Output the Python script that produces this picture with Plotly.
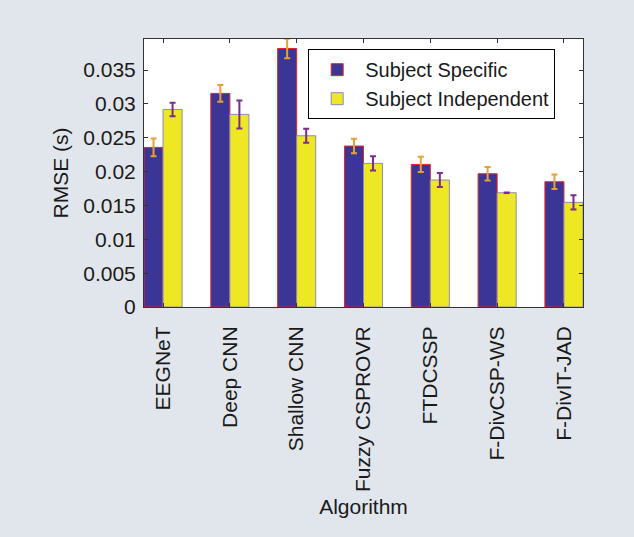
import plotly.graph_objects as go

categories = ["EEGNeT", "Deep CNN", "Shallow CNN", "Fuzzy CSPROVR", "FTDCSSP", "F-DivCSP-WS", "F-DivIT-JAD"]
specific = [0.02358, 0.03156, 0.03820, 0.02378, 0.02107, 0.01969, 0.01851]
specific_err = [0.00130, 0.00123, 0.00143, 0.00108, 0.00113, 0.00100, 0.00106]
independent = [0.02919, 0.02846, 0.02530, 0.02122, 0.01876, 0.01688, 0.01546]
independent_err = [0.00100, 0.00207, 0.00103, 0.00106, 0.00103, 0.00005, 0.00106]
y_ticks = [0, 0.005, 0.01, 0.015, 0.02, 0.025, 0.03, 0.035]
y_ticklabels = ["0", "0.005", "0.01", "0.015", "0.02", "0.025", "0.03", "0.035"]

xpos = list(range(1, len(categories) + 1))
FONT = "Liberation Sans, Arial, Helvetica, sans-serif"

fig = go.Figure()
fig.add_trace(go.Bar(
    x=xpos, y=specific, name="Subject Specific",
    marker=dict(color="#3B3695", line=dict(color="#E0262A", width=1)),
    error_y=dict(type="data", array=specific_err, color="#E8A033", thickness=2, width=3),
))
fig.add_trace(go.Bar(
    x=xpos, y=independent, name="Subject Independent",
    marker=dict(color="#EEE824", line=dict(color="#8A8CB8", width=1)),
    error_y=dict(type="data", array=independent_err, color="#7B2C8C", thickness=2, width=3),
))

fig.update_layout(
    width=634, height=537,
    paper_bgcolor="#E1E6EC", plot_bgcolor="white",
    margin=dict(l=144, r=51, t=39, b=230),
    barmode="group", bargap=0.43, bargroupgap=0,
    font=dict(family=FONT, size=21, color="#1a1a1a"),
    showlegend=True,
    legend=dict(x=0.374, y=0.962, xanchor="left", yanchor="top",
                bgcolor="white", bordercolor="black", borderwidth=1,
                itemwidth=46,
                font=dict(size=20, family=FONT), tracegroupgap=0),
)
fig.update_xaxes(
    range=[0.715, 7.285], tickmode="array", tickvals=xpos, ticktext=categories,
    tickangle=-90, ticks="inside", ticklen=4, tickcolor="#333",
    ticklabelstandoff=10,
    showline=True, linecolor="#333", linewidth=1, mirror="ticks",
    showgrid=False, zeroline=False,
    title=dict(text="Algorithm", font=dict(size=21, family=FONT), standoff=8),
)
fig.update_yaxes(
    range=[0, 0.0396], tickmode="array", tickvals=y_ticks, ticktext=y_ticklabels,
    ticks="inside", ticklen=4, tickcolor="#333",
    ticklabelstandoff=3,
    showline=True, linecolor="#333", linewidth=1, mirror="ticks",
    showgrid=False, zeroline=False,
    title=dict(text="RMSE (s)", font=dict(size=21, family=FONT), standoff=8),
)

fig.write_html("out.html", config={"displayModeBar": False},
               post_script="document.body.style.margin='0';")
